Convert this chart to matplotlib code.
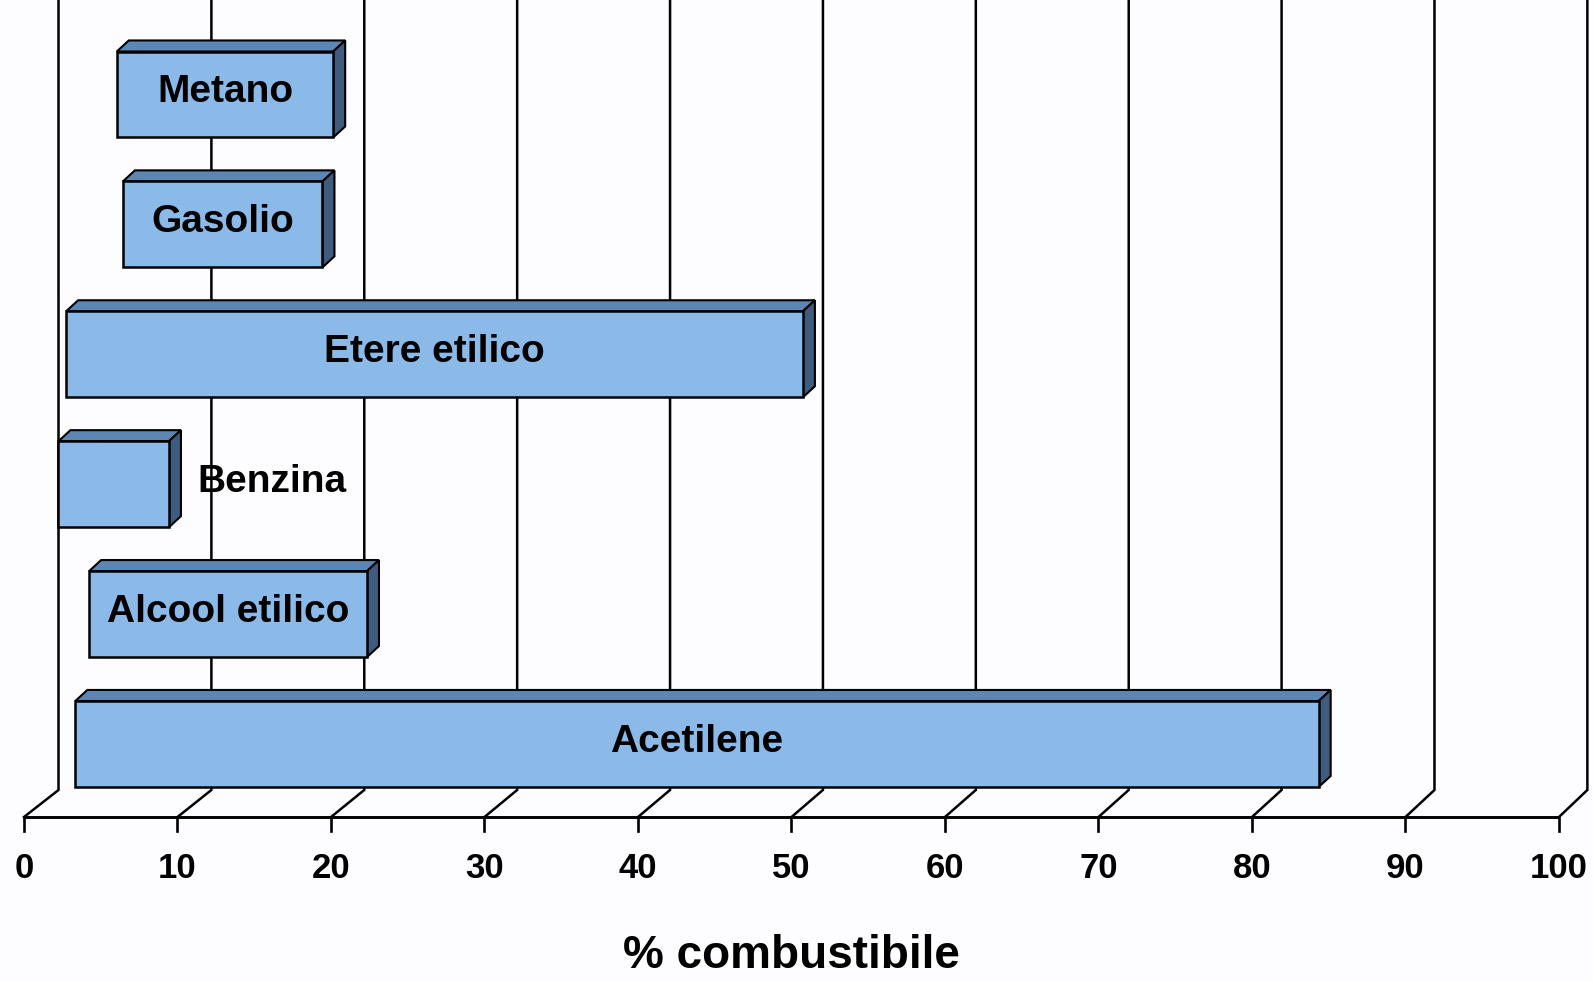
import matplotlib
matplotlib.use("Agg")
import matplotlib.pyplot as plt
from matplotlib.patches import Polygon

# Flammability range of each fuel (% of fuel in air), top to bottom
fuels = ["Metano", "Gasolio", "Etere etilico", "Benzina", "Alcool etilico", "Acetilene"]
lower = [5.1, 5.5, 1.8, 1.3, 3.3, 2.4]
upper = [19.2, 18.5, 49.8, 8.5, 21.4, 83.4]
ticks = [0, 10, 20, 30, 40, 50, 60, 70, 80, 90, 100]
xlabel = "% combustibile"

FRONT = "#8BB9E8"
TOP = "#5C86B4"
SIDE = "#3F5B7D"
BG = "#FDFCFE"

fig = plt.figure(figsize=(15.93, 9.81), dpi=100, facecolor=BG)
ax = fig.add_axes([0, 0, 1, 1])
ax.set_facecolor(BG)
ax.set_xlim(-1.5635, 102.215)
ax.set_ylim(6.8245, -0.7275)
ax.axis("off")

# oblique depth of the plot box
wall_dx, wall_scale = 2.248, 0.996
floor_front, floor_back = 5.562, 5.354
tick_len = 0.104

# back-wall gridlines with their floor diagonals and front ticks
for v in ticks:
    bx = wall_dx + v * wall_scale
    ax.plot([bx, bx, v], [-0.8, floor_back, floor_front], color="black", lw=1.8,
            solid_joinstyle="miter", zorder=1)
    ax.plot([v, v], [floor_front, floor_front + tick_len], color="black", lw=1.9, zorder=1)
    ax.text(v, 6.032, str(v), ha="center", va="baseline", fontsize=25,
            fontweight="bold", family="Liberation Sans", zorder=3)
ax.plot([ticks[0], ticks[-1]], [floor_front, floor_front], color="black", lw=2.1,
        solid_capstyle="butt", zorder=1)

# 3-D floating bars
face_dx = 0.945         # depth of the bar front face
ddx, ddy = 0.78, 0.085  # bar thickness in depth
half_h = 0.331
for i, (name, lo, hi) in enumerate(zip(fuels, lower, upper)):
    x0, x1 = lo + face_dx, hi + face_dx
    yt, yb = i - half_h, i + half_h
    top = Polygon([(x0, yt), (x0 + ddx, yt - ddy), (x1 + ddx, yt - ddy), (x1, yt)],
                  closed=True, facecolor=TOP, edgecolor="black", lw=1.5, zorder=4)
    side = Polygon([(x1, yt), (x1 + ddx, yt - ddy), (x1 + ddx, yb - ddy), (x1, yb)],
                   closed=True, facecolor=SIDE, edgecolor="black", lw=1.5, zorder=4)
    front = Polygon([(x0, yt), (x1, yt), (x1, yb), (x0, yb)],
                    closed=True, facecolor=FRONT, edgecolor="black", lw=1.8, zorder=5)
    for p in (top, side, front):
        ax.add_patch(p)
    if hi - lo >= 9:
        ax.text((x0 + x1) / 2, i + 0.058, name, ha="center", va="baseline",
                fontsize=28, fontweight="bold", family="Liberation Sans", zorder=6)
    else:
        ax.text(x1 + ddx + 1.05, i + 0.058, name, ha="left", va="baseline",
                fontsize=28, fontweight="bold", family="Liberation Sans", zorder=6)

ax.text(50, 6.725, xlabel, ha="center", va="baseline", fontsize=33,
        fontweight="bold", family="Liberation Sans")

fig.savefig("out.png", dpi=100, facecolor=BG)
